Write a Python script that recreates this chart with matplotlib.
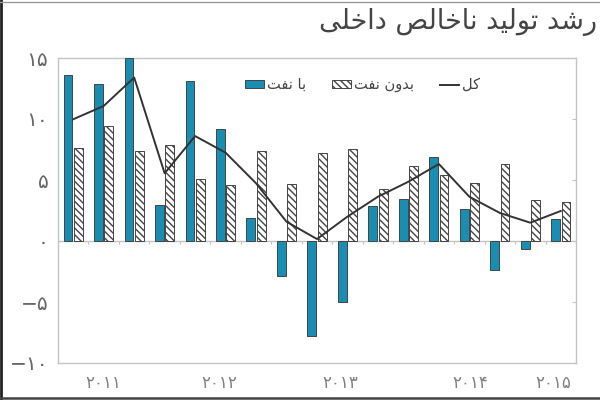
import matplotlib
matplotlib.use("Agg")
import matplotlib.pyplot as plt
import numpy as np
from matplotlib.lines import Line2D
from matplotlib.patches import Patch

plt.rcParams["font.family"] = ["DejaVu Sans"]
plt.rcParams["hatch.linewidth"] = 1.0


def rtl(s):
    # text is given in Arabic presentation forms (already shaped), flip to visual order
    return s[::-1]


# ---- data (quarterly GDP growth, 2011Q1 .. 2015Q1) ----
with_oil = [13.6, 12.9, 15.0, 2.95, 13.1, 9.2, 1.86, -2.85, -7.76, -4.98,
            2.87, 3.44, 6.86, 2.6, -2.38, -0.68, 1.78]
without_oil = [7.6, 9.4, 7.4, 7.87, 5.1, 4.6, 7.4, 4.65, 7.24, 7.57,
               4.29, 6.17, 5.41, 4.73, 6.31, 3.36, 3.22]
total = [9.98, 11.07, 13.4, 5.55, 8.6, 7.24, 4.73, 1.58, 0.16, 2.0,
         3.63, 4.86, 6.31, 3.63, 2.3, 1.5, 2.46]

year_labels = ["\u06f2\u06f0\u06f1\u06f1", "\u06f2\u06f0\u06f1\u06f2", "\u06f2\u06f0\u06f1\u06f3",
               "\u06f2\u06f0\u06f1\u06f4", "\u06f2\u06f0\u06f1\u06f5"]
year_pos = [0.98, 4.78, 8.78, 13.04, 15.76]

y_ticks = [-10, -5, 0, 5, 10, 15]
y_labels = ["\u2212\u06f1\u06f0", "\u2212\u06f5", "\u06f0", "\u06f5", "\u06f1\u06f0", "\u06f1\u06f5"]

title = rtl("\ufead\ufeb7\ufeaa \ufe97\ufeee\ufedf\ufef4\ufeaa \ufee7\ufe8e\ufea7\ufe8e\ufedf\ufeba \ufea9\ufe8d\ufea7\ufee0\ufef0")
lbl_with = rtl("\ufe91\ufe8e \ufee7\ufed4\ufe96")
lbl_without = rtl("\ufe91\ufeaa\ufeed\ufee5 \ufee7\ufed4\ufe96")
lbl_total = rtl("\ufb90\ufede")

TEAL = "#1a8db2"
EDGE = "#444444"
GRID = "#c4c4c4"


def main():
    fig = plt.figure(figsize=(6, 4), dpi=100)
    ax = fig.add_axes([58 / 600, 1 - 363 / 400, (576 - 58) / 600, (363 - 58) / 400])

    x = np.arange(len(with_oil))
    w = 0.29
    ax.bar(x - 0.17, with_oil, width=w, color=TEAL, edgecolor=EDGE, linewidth=0.7, zorder=3)
    ax.bar(x + 0.17, without_oil, width=w, color="white", edgecolor=EDGE, linewidth=0.7,
           hatch="\\\\\\\\\\", zorder=3)
    ax.plot(x, total, color="#333333", linewidth=1.4, zorder=4)

    ax.set_xlim(-0.5, len(with_oil) - 0.5)
    ax.set_ylim(-10, 15)
    ax.axhline(0, color=GRID, linewidth=1.0, zorder=2)

    for sp in ax.spines.values():
        sp.set_color(GRID)
        sp.set_linewidth(1.0)

    ax.set_yticks(y_ticks)
    ax.set_yticklabels(y_labels, fontsize=14.5, color="#666666")
    ax.tick_params(axis="y", left=False, right=True, direction="in", length=3,
                   color=GRID, pad=7)
    ax.set_xticks(year_pos)
    ax.set_xticklabels(year_labels, fontsize=12, color="#808080")
    ax.tick_params(axis="x", length=0, pad=8)

    # small category ticks along the zero line
    zero = ax.secondary_xaxis(0.4)
    zero.set_xticks(x[:-1] + 0.5)
    zero.tick_params(length=2, color=GRID, labelbottom=False, direction="out")
    zero.spines["bottom"].set_visible(False)

    handles = [
        Patch(facecolor=TEAL, edgecolor=EDGE, linewidth=0.7),
        Patch(facecolor="white", edgecolor=EDGE, linewidth=0.7, hatch="\\\\\\\\\\"),
        Line2D([0], [0], color="#333333", linewidth=1.4),
    ]
    ax.legend(handles, [lbl_with, lbl_without, lbl_total], ncol=3, frameon=False,
              loc="upper left", bbox_to_anchor=(0.335, 0.98), fontsize=10.5,
              handlelength=1.3, handleheight=0.5, handletextpad=0.2, columnspacing=1.8,
              labelcolor="#444444")

    fig.text(0.995, 0.945, title, ha="right", va="center", fontsize=19.5, color="#444444")

    # page frame
    fig.add_artist(Line2D([0.002, 0.002], [0, 1], transform=fig.transFigure, color="#222222", linewidth=2))
    fig.add_artist(Line2D([0, 1], [0.006, 0.006], transform=fig.transFigure, color="#444444", linewidth=1.8))
    fig.add_artist(Line2D([0, 1], [0.995, 0.995], transform=fig.transFigure, color="#999999", linewidth=1))

    fig.savefig("out.png", dpi=100)
    plt.close(fig)


if __name__ == "__main__":
    main()
